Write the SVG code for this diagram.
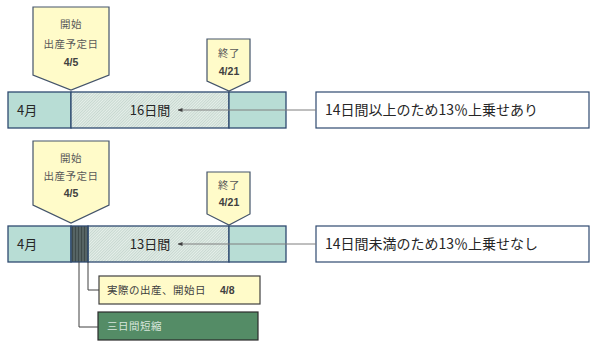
<svg xmlns="http://www.w3.org/2000/svg" width="600" height="346" viewBox="0 0 600 346">
<defs>
<pattern id="hatch" width="2" height="2" patternUnits="userSpaceOnUse" patternTransform="rotate(45)">
<rect width="2" height="2" fill="#E6EFEA"/>
<line x1="0" y1="0" x2="0" y2="2" stroke="#A8C2B6" stroke-width="1"/>
</pattern>
<pattern id="dark" width="3" height="3" patternUnits="userSpaceOnUse">
<rect width="3" height="3" fill="#566464"/>
<line x1="0.5" y1="0" x2="0.5" y2="3" stroke="#3E4A4A" stroke-width="1"/>
</pattern>
<marker id="ah" viewBox="0 0 10 10" refX="9" refY="5" markerWidth="5" markerHeight="5" orient="auto">
<path d="M0,1 L10,5 L0,9 Z" fill="#404040"/>
</marker>
<style>
.bar{fill:#B8DDD5;stroke:#2F4A70;stroke-width:1.3}
.hat{fill:url(#hatch);stroke:#2F4A70;stroke-width:1.3}
.call{fill:#FFFBC9;stroke:#44546A;stroke-width:1.2}
.ct{font-family:"Noto Sans CJK JP",sans-serif;font-size:10.5px;fill:#595959;letter-spacing:0.5px}
.mid{text-anchor:middle}
.cn{font-family:"Liberation Sans",sans-serif;font-size:10.5px;fill:#404040;font-weight:bold}
.bt{font-family:"Noto Sans CJK JP",sans-serif;font-size:13px;fill:#262626}
.nt{font-family:"Noto Sans CJK JP",sans-serif;font-size:14px;fill:#262626}
.box{fill:#FFFFFF;stroke:#2F4A70;stroke-width:1.2}
.conn{stroke:#7F7F7F;stroke-width:1;fill:none}
.conn2{stroke:#404040;stroke-width:1;fill:none}
</style>
</defs>

<g id="bar1">
<rect class="bar" x="8" y="92" width="63" height="36"/>
<rect class="hat" x="71" y="92" width="158" height="36"/>
<rect class="bar" x="229" y="92" width="57" height="36"/>
<text class="bt" x="17" y="115">4月</text>
<text class="bt mid" x="150" y="115">16日間</text>
</g>

<g id="start1">
<path class="call" d="M33,7 H109 V75 L71,90 L33,75 Z"/>
<text class="ct mid" x="71" y="28">開始</text>
<text class="ct mid" x="71" y="48">出産予定日</text>
<text class="cn mid" x="71" y="66">4/5</text>
</g>

<g id="end1">
<path class="call" d="M207,39 H250 V81 L229,91 L207,81 Z"/>
<text class="ct mid" x="229" y="57">終了</text>
<text class="cn mid" x="229" y="75">4/21</text>
</g>

<g id="note1">
<rect class="box" x="316" y="92" width="273" height="36"/>
<text class="nt" x="325" y="115">14日間以上のため13％上乗せあり</text>
</g>

<g id="bar2">
<rect class="bar" x="8" y="226" width="63" height="36"/>
<rect class="hat" x="88" y="226" width="141" height="36"/>
<rect fill="url(#dark)" stroke="#2F4A70" stroke-width="1.3" x="71" y="226" width="17" height="36"/>
<rect class="bar" x="229" y="226" width="57" height="36"/>
<text class="bt" x="17" y="249">4月</text>
<text class="bt mid" x="150" y="249">13日間</text>
</g>

<g id="start2">
<path class="call" d="M33,141 H109 V205 L71,223 L33,205 Z"/>
<text class="ct mid" x="71" y="162">開始</text>
<text class="ct mid" x="71" y="180">出産予定日</text>
<text class="cn mid" x="71" y="197">4/5</text>
</g>

<g id="end2">
<path class="call" d="M207,172 H250 V214 L229,225 L207,214 Z"/>
<text class="ct mid" x="229" y="189">終了</text>
<text class="cn mid" x="229" y="206">4/21</text>
</g>

<g id="note2">
<rect class="box" x="316" y="226" width="273" height="36"/>
<text class="nt" x="325" y="249">14日間未満のため13％上乗せなし</text>
</g>

<g id="actual">
<rect fill="#FFFBC9" stroke="#404040" stroke-width="1.2" x="99" y="276" width="161" height="28"/>
<text class="ct" x="107" y="294" style="fill:#404040">実際の出産、開始日</text>
<text class="cn" x="220" y="294">4/8</text>
</g>

<g id="short">
<rect fill="#548C66" stroke="#2B2B2B" stroke-width="1.2" x="98" y="312" width="160" height="28"/>
<text class="ct" x="107" y="330" style="fill:#D8E6DC">三日間短縮</text>
</g>

<g id="connectors">
<line class="conn" x1="316" y1="110" x2="178" y2="110" marker-end="url(#ah)"/>
<line class="conn" x1="316" y1="244" x2="178" y2="244" marker-end="url(#ah)"/>
<polyline class="conn2" points="88,262 88,290 99,290"/>
<polyline class="conn2" points="79,262 79,327 98,327"/>
</g>
</svg>
